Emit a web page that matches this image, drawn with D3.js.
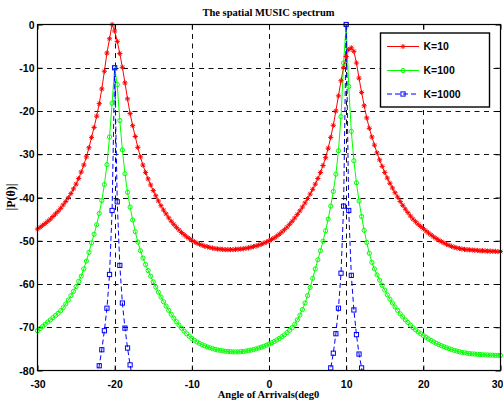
<!DOCTYPE html>
<html><head><meta charset="utf-8">
<script src="https://cdn.jsdelivr.net/npm/d3@7"></script>
<style>body{margin:0;background:#fff;} svg{display:block;}</style>
</head><body><div id="chart"></div>
<script>
// angle grid: -30 .. 30 deg, 181 samples (step 1/3 deg)
const angles = d3.range(181).map(i => -30 + i / 3);
const seriesNames = ["K=10", "K=100", "K=1000"];
const xTicks = [-30, -20, -10, 0, 10, 20, 30];
const yTicks = [-80, -70, -60, -50, -40, -30, -20, -10, 0];

const k10 = [
-47.3,-46.9,-46.45,-46.0,-45.5,-45.0,-44.4,-43.8,-43.2,-42.5,
-41.7,-40.9,-40.05,-39.1,-38.0,-36.9,-35.6,-34.1,-32.5,-30.6,
-28.5,-26.1,-23.8,-21.2,-18.3,-14.9,-10.8,-6.6,-3.3,0,
-1.5,-3.9,-6.7,-9.9,-13.5,-17.2,-20.6,-23.4,-25.9,-28.4,
-30.6,-32.5,-34.2,-35.7,-37.1,-38.4,-39.6,-40.8,-41.9,-42.9,
-43.8,-44.7,-45.5,-46.2,-46.9,-47.5,-48.1,-48.6,-49.1,-49.5,
-49.9,-50.25,-50.55,-50.8,-51.05,-51.25,-51.4,-51.55,-51.7,-51.8,
-51.9,-51.95,-52.0,-52.05,-52.05,-52.05,-52.05,-52.0,-51.95,-51.9,
-51.85,-51.75,-51.65,-51.5,-51.35,-51.2,-51.0,-50.8,-50.55,-50.3,
-50.0,-49.7,-49.35,-48.95,-48.5,-48.0,-47.45,-46.85,-46.2,-45.5,
-44.75,-43.95,-43.1,-42.2,-41.25,-40.25,-39.2,-38.1,-36.9,-35.6,
-34.2,-32.6,-30.8,-28.6,-26.1,-23.3,-20.0,-16.5,-13.0,-9.9,
-7.4,-5.8,-5.4,-6.2,-8.9,-12.4,-15.7,-18.8,-21.6,-24.0,
-26.0,-27.9,-29.7,-31.3,-32.8,-34.2,-35.5,-36.7,-37.8,-38.9,
-39.9,-40.9,-41.8,-42.7,-43.5,-44.3,-45.0,-45.6,-46.2,-46.7,
-47.2,-47.7,-48.2,-48.65,-49.1,-49.5,-49.85,-50.2,-50.5,-50.8,
-51.05,-51.3,-51.5,-51.65,-51.8,-51.9,-52.0,-52.05,-52.1,-52.15,
-52.2,-52.25,-52.3,-52.3,-52.35,-52.4,-52.4,-52.45,-52.45,-52.5,
-52.5];

const k100 = [
-70.8,-70.3,-69.8,-69.3,-68.8,-68.3,-67.8,-67.3,-66.8,-66.2,
-65.5,-64.6,-63.7,-62.7,-61.7,-60.6,-59.4,-58.2,-56.5,-54.7,
-52.7,-50.5,-48.5,-46.3,-43.7,-40.7,-37.0,-32.4,-26.0,-18.2,
-10.0,-13.9,-22.2,-29.0,-34.5,-38.8,-42.2,-45.2,-47.9,-50.3,
-52.3,-54.0,-55.5,-56.9,-58.2,-59.5,-60.7,-61.9,-63.0,-64.1,
-65.1,-66.1,-67.0,-67.9,-68.7,-69.5,-70.2,-70.9,-71.5,-72.1,
-72.6,-73.0,-73.4,-73.75,-74.05,-74.3,-74.55,-74.75,-74.95,-75.1,
-75.25,-75.35,-75.45,-75.55,-75.6,-75.65,-75.7,-75.7,-75.7,-75.65,
-75.6,-75.5,-75.4,-75.3,-75.15,-75.0,-74.8,-74.6,-74.4,-74.15,
-73.9,-73.6,-73.3,-72.95,-72.6,-72.2,-71.75,-71.25,-70.7,-70.1,
-69.3,-68.3,-67.2,-65.9,-64.4,-62.7,-60.8,-58.7,-56.5,-54.4,
-52.3,-50.1,-47.7,-45.0,-42.0,-38.6,-34.6,-29.2,-21.3,-8.9,
0,-14.3,-24.7,-31.5,-36.6,-40.8,-44.4,-47.6,-50.4,-52.9,
-55.0,-56.5,-57.9,-59.1,-60.3,-61.4,-62.5,-63.5,-64.4,-65.3,
-66.1,-66.9,-67.6,-68.3,-68.9,-69.5,-70.1,-70.6,-71.1,-71.5,
-71.9,-72.3,-72.7,-73.05,-73.4,-73.7,-74.0,-74.25,-74.5,-74.75,
-74.95,-75.15,-75.35,-75.5,-75.65,-75.8,-75.9,-76.0,-76.1,-76.15,
-76.2,-76.25,-76.3,-76.35,-76.4,-76.4,-76.45,-76.45,-76.5,-76.5,
-76.5];

const k1000 = [
-100.4,-100.3,-100.2,-100.1,-100.0,-99.8,-99.6,-99.4,-99.2,-98.9,
-98.6,-98.2,-97.8,-97.3,-96.7,-96.0,-95.2,-94.2,-93.0,-91.6,
-89.9,-87.8,-85.3,-82.3,-78.9,-75.2,-70.8,-65.6,-57.8,-43.0,
-10.0,-41.0,-55.7,-64.4,-70.2,-74.8,-78.7,-82.0,-84.8,-87.2,
-89.3,-91.1,-92.7,-94.0,-95.2,-96.2,-97.1,-97.9,-98.6,-99.2,
-99.8,-100.3,-100.7,-101.1,-101.4,-101.7,-102.0,-102.2,-102.4,-102.6,
-102.8,-102.9,-103.0,-103.1,-103.2,-103.3,-103.4,-103.5,-103.6,-103.6,
-103.7,-103.7,-103.8,-103.8,-103.8,-103.8,-103.8,-103.8,-103.7,-103.7,
-103.6,-103.5,-103.4,-103.3,-103.1,-103.0,-102.9,-102.7,-102.5,-102.3,
-102.1,-101.9,-101.6,-101.3,-100.9,-100.5,-100.1,-99.7,-99.2,-98.7,
-98.1,-97.5,-96.8,-96.1,-95.3,-94.4,-93.4,-92.3,-91.1,-89.8,
-88.3,-86.6,-84.6,-82.3,-79.4,-76.0,-71.5,-65.6,-57.5,-42.0,
0,-43.0,-58.0,-66.0,-71.7,-76.2,-79.4,-82.3,-84.8,-87.0,
-89.0,-90.8,-92.4,-93.8,-95.0,-96.1,-97.1,-98.0,-98.8,-99.5,
-100.1,-100.7,-101.2,-101.6,-102.0,-102.4,-102.7,-103.0,-103.3,-103.5,
-103.7,-103.9,-104.1,-104.2,-104.3,-104.4,-104.5,-104.6,-104.7,-104.8,
-104.8,-104.9,-104.9,-105.0,-105.0,-105.0,-105.1,-105.1,-105.1,-105.1,
-105.2,-105.2,-105.2,-105.2,-105.2,-105.2,-105.2,-105.2,-105.2,-105.2,
-105.2];

const W = 503, H = 403;
const plot = {left: 37.5, right: 500.5, top: 24.5, bottom: 370.5};

const svg = d3.select("#chart").append("svg").attr("width", W).attr("height", H);
svg.append("rect").attr("width", W).attr("height", H).attr("fill", "#fff");

const x = d3.scaleLinear().domain([-30, 30]).range([plot.left, plot.right]);
const y = d3.scaleLinear().domain([-80, 0]).range([plot.bottom, plot.top]);

svg.append("defs").append("clipPath").attr("id", "clip")
  .append("rect").attr("x", plot.left).attr("y", plot.top)
  .attr("width", plot.right - plot.left).attr("height", plot.bottom - plot.top);

// grid
const grid = svg.append("g").attr("stroke", "#111").attr("stroke-width", 1)
  .attr("stroke-dasharray", "5,4.5").attr("fill", "none");
xTicks.filter(t => t > -30 && t < 30).forEach(t => {
  grid.append("line").attr("x1", Math.round(x(t)) + 0.5).attr("x2", Math.round(x(t)) + 0.5)
    .attr("y1", plot.top).attr("y2", plot.bottom);
});
yTicks.filter(t => t > -80 && t < 0).forEach(t => {
  grid.append("line").attr("y1", Math.round(y(t)) + 0.5).attr("y2", Math.round(y(t)) + 0.5)
    .attr("x1", plot.left).attr("x2", plot.right);
});

// axes (inward ticks, MATLAB box)
const fontTick = "bold 10.5px 'Liberation Sans', Arial, sans-serif";
const fmt = d => String(d);
const axB = svg.append("g").attr("transform", `translate(0,${plot.bottom})`)
  .call(d3.axisBottom(x).tickValues(xTicks).tickSize(-5).tickPadding(10).tickFormat(fmt));
const axL = svg.append("g").attr("transform", `translate(${plot.left},0)`)
  .call(d3.axisLeft(y).tickValues(yTicks).tickSize(-5).tickPadding(3).tickFormat(fmt));
const axT = svg.append("g").attr("transform", `translate(0,${plot.top})`)
  .call(d3.axisTop(x).tickValues(xTicks).tickSize(-5).tickFormat(""));
const axR = svg.append("g").attr("transform", `translate(${plot.right},0)`)
  .call(d3.axisRight(y).tickValues(yTicks).tickSize(-5).tickFormat(""));
[axB, axL, axT, axR].forEach(a => {
  a.select(".domain").remove();
  a.selectAll("line").attr("stroke", "#000");
  a.selectAll("text").style("font", fontTick).attr("fill", "#000");
});
axL.selectAll("text").attr("dy", "0.35em");
// keep the last x label inside the picture
axB.selectAll(".tick").filter(d => d === 30).select("text")
  .attr("text-anchor", "end").attr("x", 2.4);

// series
const series = [
  {name: seriesNames[0], values: k10, color: "#ff0000", dash: null, marker: "star"},
  {name: seriesNames[1], values: k100, color: "#00ff00", dash: null, marker: "circle"},
  {name: seriesNames[2], values: k1000, color: "#0000ff", dash: "5,3", marker: "square"}
];

const line = d3.line().x((d, i) => x(angles[i])).y(d => y(d));
const plotG = svg.append("g");
const linesG = plotG.append("g").attr("clip-path", "url(#clip)");

function drawMarker(g, type, cx, cy, color) {
  if (type === "star") {
    g.append("path")
      .attr("d", `M${cx-2.6},${cy}H${cx+2.6}M${cx},${cy-2.6}V${cy+2.6}M${cx-1.8},${cy-1.8}L${cx+1.8},${cy+1.8}M${cx-1.8},${cy+1.8}L${cx+1.8},${cy-1.8}`)
      .attr("stroke", color).attr("stroke-width", 1).attr("fill", "none");
  } else if (type === "circle") {
    g.append("circle").attr("cx", cx).attr("cy", cy).attr("r", 2.1)
      .attr("stroke", color).attr("stroke-width", 1).attr("fill", "none");
  } else {
    g.append("rect").attr("x", cx - 2.1).attr("y", cy - 2.1).attr("width", 4.2).attr("height", 4.2)
      .attr("stroke", color).attr("stroke-width", 1).attr("fill", "none");
  }
}

series.forEach(s => {
  linesG.append("path").datum(s.values).attr("d", line)
    .attr("fill", "none").attr("stroke", s.color).attr("stroke-width", 1)
    .attr("stroke-dasharray", s.dash);
  const mg = plotG.append("g");
  s.values.forEach((v, i) => {
    if (v >= -80.5 && v <= 0) drawMarker(mg, s.marker, x(angles[i]), y(v), s.color);
  });
});

// box
svg.append("rect").attr("x", plot.left).attr("y", plot.top)
  .attr("width", plot.right - plot.left).attr("height", plot.bottom - plot.top)
  .attr("fill", "none").attr("stroke", "#000").attr("stroke-width", 1.2);

// legend
const lg = svg.append("g");
lg.append("rect").attr("x", 380.5).attr("y", 33).attr("width", 109).attr("height", 74)
  .attr("fill", "#fff").attr("stroke", "#000").attr("stroke-width", 1.4);
const legY = [46.5, 70.5, 94];
series.forEach((s, i) => {
  lg.append("line").attr("x1", 387).attr("x2", 419).attr("y1", legY[i]).attr("y2", legY[i])
    .attr("stroke", s.color).attr("stroke-width", 1).attr("stroke-dasharray", s.dash);
  drawMarker(lg, s.marker, 403, legY[i], s.color);
  lg.append("text").attr("x", 423.5).attr("y", legY[i] + 3.8).text(s.name)
    .style("font", "bold 10.5px 'Liberation Sans', Arial, sans-serif").attr("fill", "#000");
});

// titles
const serif = "'Liberation Serif', 'Times New Roman', serif";
svg.append("text").attr("x", 268.5).attr("y", 15.5).attr("text-anchor", "middle")
  .style("font", `bold 10.5px ${serif}`).text("The spatial MUSIC spectrum");
svg.append("text").attr("x", 268.5).attr("y", 398).attr("text-anchor", "middle")
  .style("font", `bold 10.5px ${serif}`).text("Angle of Arrivals(deg0");
svg.append("text").attr("transform", "translate(15,197) rotate(-90)").attr("text-anchor", "middle")
  .style("font", `bold 12px ${serif}`).text("|P(θ)|");
</script>
</body></html>
